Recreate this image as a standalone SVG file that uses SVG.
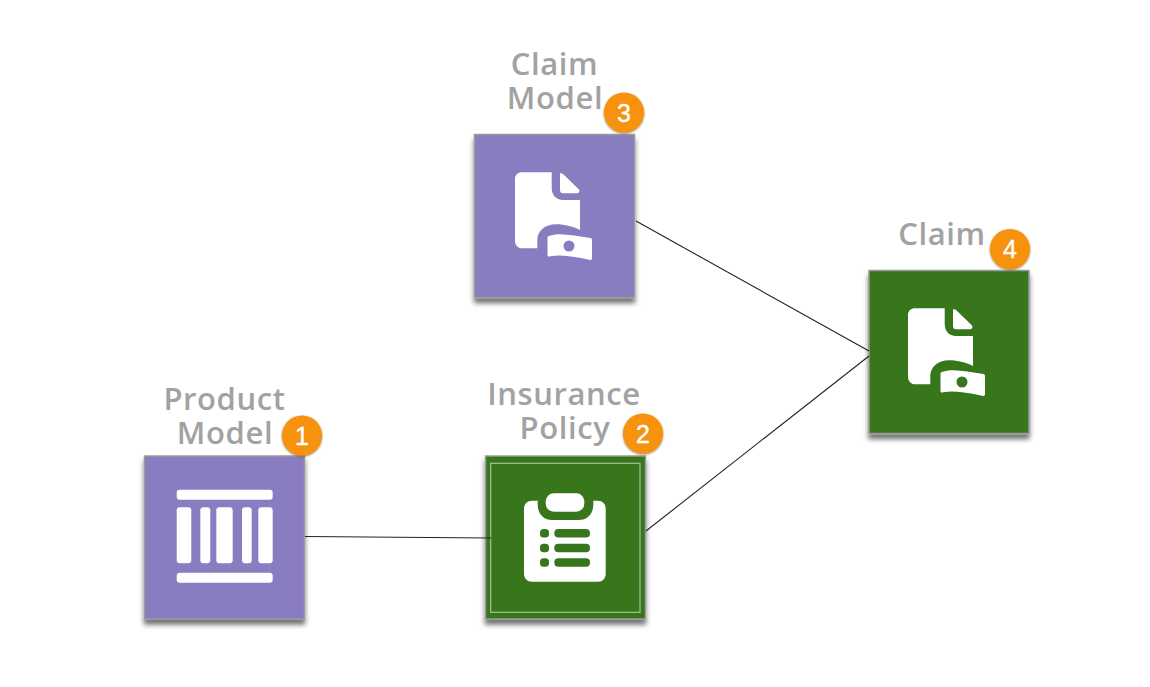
<svg xmlns="http://www.w3.org/2000/svg" width="1150" height="687" viewBox="0 0 1150 687">
<style>
.box{stroke:#9a9a9a;stroke-width:1.5;filter:url(#sh)}
.purple{fill:#8a7bc0}
.green{fill:#38761d}
.w{fill:#fff}
.lbl{font-family:"Open Sans","Noto Sans",sans-serif;font-weight:600;font-size:31px;fill:#a2a2a2;text-anchor:middle;letter-spacing:.6px}
.num{font-family:"Liberation Sans",Arial,sans-serif;font-size:25px;fill:#fff;stroke:#fff;stroke-width:.4;text-anchor:middle}
.bdg{fill:#f6920f;filter:url(#bs)}
.conn{stroke:#222;stroke-width:1.1;fill:none}
</style>
<defs>
<filter id="sh" x="-10%" y="-10%" width="120%" height="120%"><feDropShadow dx="0" dy="5" stdDeviation="2.5" flood-color="#000" flood-opacity=".55"/></filter>
<filter id="bs" x="-20%" y="-20%" width="140%" height="140%"><feDropShadow dx="0" dy="1" stdDeviation=".8" flood-color="#7a4a00" flood-opacity=".7"/></filter>
<g id="claimIcon">
<path class="w" d="M522 172.300H551.700V188C551.700 195 556 200 563 200H580V230C574 227 565 224.300 556 224.300C545 224.300 537.300 231 537.300 240V248.300H522C518 248.300 515 245 515 241V179C515 175 518 172.300 522 172.300Z"/>
<path class="w" d="M560 173.300C561 173 562 173 563 174L578.500 189C580 190.500 579.500 193.300 577 193.300H563C561 193.300 560 192 560 190Z"/>
<path class="w" fill-rule="evenodd" d="M549 236C560 232 574 236 590.500 238C591.500 238.200 592 239 592 240V258.500C592 259.500 591 260.200 590 260C576 257 562 254 549 256.500C548 256.700 547.500 256 547.500 255V237.500C547.500 236.700 548 236.300 549 236ZM569 240.500A5.500 5.500 0 1 0 569 251.500A5.500 5.500 0 1 0 569 240.500Z"/>
</g>
</defs>
<g id="product-model">
<rect class="box purple" x="144.500" y="456" width="160" height="163"/>
<rect class="w" x="176.700" y="489.700" width="96" height="10" rx="3"/>
<rect class="w" x="176.700" y="572.700" width="96" height="10" rx="3"/>
<rect class="w" x="176.700" y="507.300" width="14.600" height="56" rx="3"/>
<rect class="w" x="200.300" y="507.300" width="10" height="56" rx="3"/>
<rect class="w" x="216.300" y="507.300" width="16.400" height="56" rx="3"/>
<rect class="w" x="242" y="507.300" width="9.700" height="56" rx="3"/>
<rect class="w" x="258.300" y="507.300" width="14.400" height="56" rx="3"/>
<text class="lbl" x="224.500" y="410">Product</text>
<text class="lbl" x="225" y="444">Model</text>
<circle class="bdg" cx="302" cy="435.500" r="20"/>
<text class="num" x="302" y="444.500">1</text>
</g>
<g id="insurance-policy">
<rect class="box green" x="485.500" y="456" width="160" height="163"/>
<rect x="490.700" y="463.300" width="149.300" height="149" fill="none" stroke="#a8bfa0" stroke-width="1.200"/>
<path class="w" d="M532 500.700H537.700V505C537.700 514 544 520 552 520H579C587 520 593.300 514 593.300 505V500.700H598C602.500 500.700 605.700 504 605.700 508.500V574C605.700 578.500 602.500 581.700 598 581.700H532C527.500 581.700 524 578.500 524 574V508.500C524 504 527.500 500.700 532 500.700Z"/>
<rect class="w" x="545.700" y="493.300" width="38.600" height="18.400" rx="8"/>
<rect class="green" x="540" y="529" width="9" height="8.500" rx="3.500"/>
<rect class="green" x="540" y="543.700" width="9" height="8.500" rx="3.500"/>
<rect class="green" x="540" y="558.300" width="9" height="8.500" rx="3.500"/>
<rect class="green" x="554.300" y="529" width="35.700" height="8.500" rx="4"/>
<rect class="green" x="554.300" y="543.700" width="35.700" height="8.500" rx="4"/>
<rect class="green" x="554.300" y="558.300" width="35.700" height="8.500" rx="4"/>
<text class="lbl" x="564" y="405">Insurance</text>
<text class="lbl" x="565" y="439">Policy</text>
<circle class="bdg" cx="643" cy="433.500" r="20"/>
<text class="num" x="643" y="442.500">2</text>
</g>
<g id="claim-model">
<rect class="box purple" x="474.500" y="134.500" width="160" height="163"/>
<use href="#claimIcon"/>
<text class="lbl" x="554.500" y="75">Claim</text>
<text class="lbl" x="555" y="109">Model</text>
<circle class="bdg" cx="624" cy="112.500" r="20"/>
<text class="num" x="624" y="121.500">3</text>
</g>
<g id="claim">
<rect class="box green" x="869" y="270.500" width="160" height="163"/>
<use href="#claimIcon" transform="translate(393 136)"/>
<text class="lbl" x="942" y="245">Claim</text>
<circle class="bdg" cx="1010" cy="249" r="20"/>
<text class="num" x="1010" y="258">4</text>
</g>
<g id="connectors">
<line class="conn" x1="305" y1="536.500" x2="491" y2="538"/>
<line class="conn" x1="646" y1="531" x2="869" y2="356"/>
<line class="conn" x1="636" y1="221" x2="869" y2="351"/>
</g>
</svg>
